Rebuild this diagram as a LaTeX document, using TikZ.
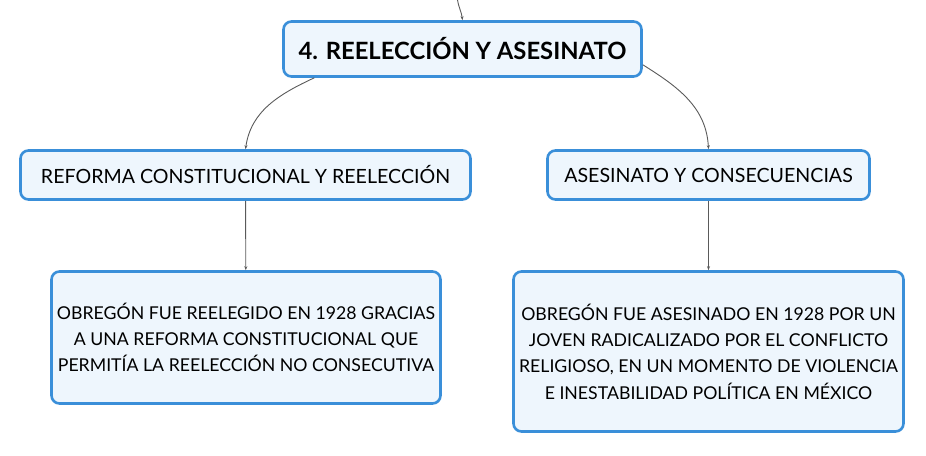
\documentclass[tikz,border=0pt]{standalone}
\usepackage{fontspec}
\setmainfont{Lato}
\usetikzlibrary{arrows.meta}
\definecolor{boxline}{HTML}{3A8FD9}
\definecolor{boxfill}{HTML}{EEF6FD}
\definecolor{linkgray}{HTML}{5A5A5A}
\begin{document}
\begin{tikzpicture}[x=1pt,y=-1pt,
    topic/.style={draw=boxline,fill=boxfill,line width=2.6pt,rounded corners=8pt,
      inner sep=0pt,align=center,text=black},
    link/.style={draw=linkgray,line width=0.9pt,-{Stealth[length=4pt,width=3pt]}}]
  \useasboundingbox (0,0) rectangle (926,455);
  % central topic
  \node[topic,minimum width=358pt,minimum height=55pt,font=\fontsize{23.8}{26}\selectfont\bfseries]
    (title) at (462.5,49) {4. REELECCIÓN Y ASESINATO};
  % subtopics
  \node[topic,minimum width=450pt,minimum height=49pt,font=\fontsize{19.6}{22}\selectfont]
    (reforma) at (245.5,175) {REFORMA CONSTITUCIONAL Y REELECCIÓN};
  \node[topic,minimum width=322pt,minimum height=49pt,font=\fontsize{19.6}{22}\selectfont]
    (asesinato) at (708.5,175) {ASESINATO Y CONSECUENCIAS};
  % details
  \node[topic,minimum width=389pt,minimum height=132pt,font=\fontsize{17.7}{26}\selectfont]
    (reeleccion) at (246,337.5) {OBREGÓN FUE REELEGIDO EN 1928 GRACIAS\\
    A UNA REFORMA CONSTITUCIONAL QUE\\
    PERMITÍA LA REELECCIÓN NO CONSECUTIVA};
  \node[topic,minimum width=390pt,minimum height=160pt,font=\fontsize{17.7}{26.3}\selectfont]
    (muerte) at (708.5,351.5) {OBREGÓN FUE ASESINADO EN 1928 POR UN\\
    JOVEN RADICALIZADO POR EL CONFLICTO\\
    RELIGIOSO, EN UN MOMENTO DE VIOLENCIA\\
    E INESTABILIDAD POLÍTICA EN MÉXICO};
  % connectors
  \coordinate (parent) at (457.5,0);
  \draw[link] (parent) to[out=-80,in=97] (title.north);
  \draw[link] (title.191.5) to[out=205,in=82] (reforma.north);
  \draw[link] (title.-5) to[out=-32,in=93] (asesinato.north);
  \draw[link] (reforma) -- (reeleccion);
  \draw[link] (asesinato) -- (muerte);
\end{tikzpicture}
\end{document}
